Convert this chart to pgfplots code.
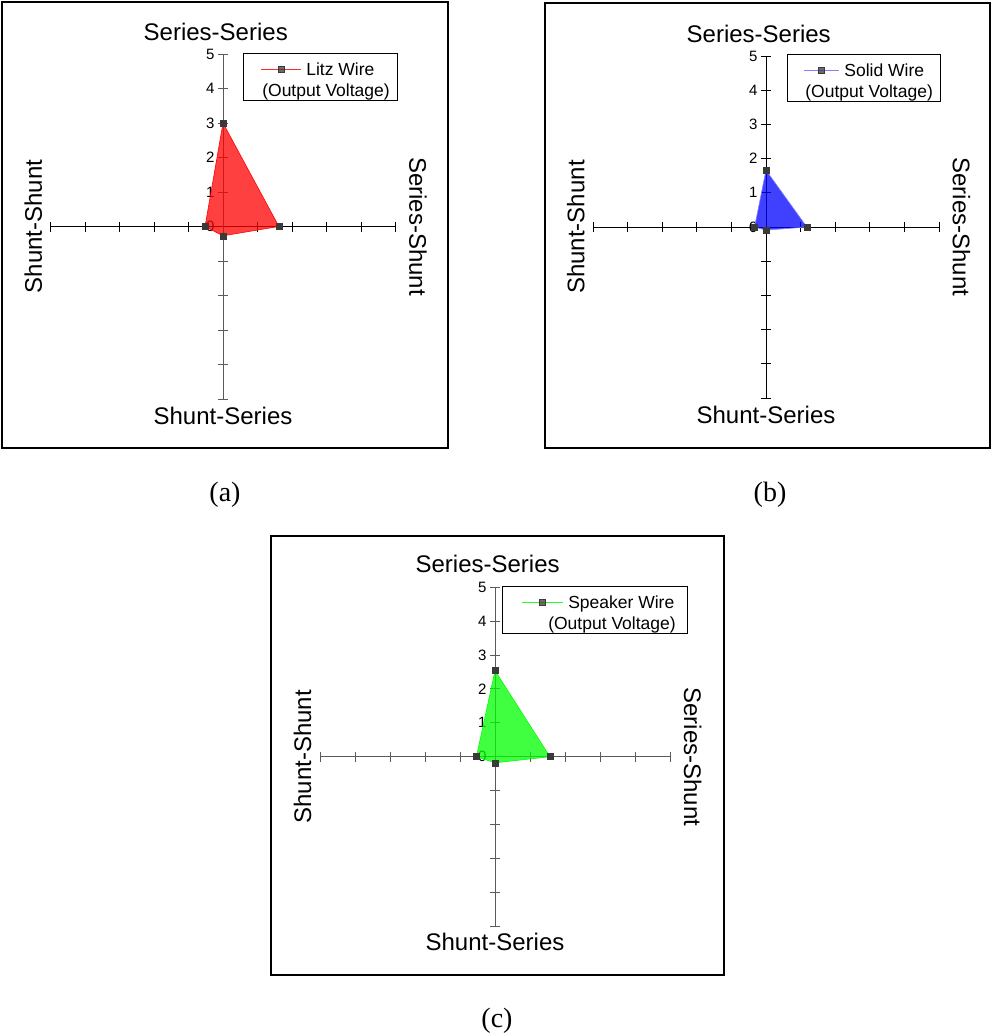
\documentclass[border=0pt]{standalone}
\usepackage{pgfplots}
\pgfplotsset{compat=1.18}
\usepackage{fontspec}
\setmainfont{Liberation Sans}
\newfontfamily\capfont{Liberation Serif}

\definecolor{markgray}{HTML}{3A3A3A}
\definecolor{axgray}{HTML}{5A5A5A}
\definecolor{litzred}{RGB}{255,40,40}
\definecolor{solidblue}{RGB}{128,128,255}
\definecolor{speakgreen}{RGB}{40,255,40}

\tikzset{axlab/.style={font=\fontsize{24}{28}\selectfont}}

\pgfplotsset{
  quad/.style={
    anchor=origin,
    xmin=-5, xmax=5, ymin=-5, ymax=5,
    axis lines=middle,
    axis line style={-, line width=0.9pt},
    xtick={-5,...,5}, ytick={-5,...,5},
    xticklabels={},
    yticklabels={,,,,,0,1,2,3,4,5},
    hide obscured x ticks=false, hide obscured y ticks=false,
    tick align=center, major tick length=10pt,
    tick style={line width=0.9pt, black},
    yticklabel style={font=\fontsize{15}{18}\selectfont, anchor=east},
    clip=false,
    legend style={font=\fontsize{17.5}{21}\selectfont, draw=black, line width=1pt,
      inner xsep=8pt, inner ysep=2pt, column sep=5pt,
      nodes={inner sep=0pt},
      cells={anchor=base west, align=left}},
  },
  % legend sample sits on the first text line (the cell base is the last line)
  legimg/.style n args={3}{legend image code/.code={
      \path (-#1,41pt) (0pt,0pt);
      \draw[color=#3, line width=1pt, opacity=1] (0pt,27pt) -- (#2,27pt);
      \fill[markgray] ($(#2/2,27pt)+(-3pt,-3pt)$) rectangle ++(6pt,6pt);}},
  wire/.style={draw=#1, line width=0.6pt, fill=#1, fill opacity=0.75,
    mark=square*, mark size=3pt, mark options={fill=markgray, draw=markgray, fill opacity=1}},
}
\usetikzlibrary{calc}

\begin{document}
\begin{tikzpicture}[x=1pt, y=1pt]
\path[use as bounding box] (0,0) rectangle (992,-1034);

% (a) Litz wire
\begin{axis}[quad, at={(223pt,-226.5pt)}, x=34.5pt, y=34.5pt,
  y axis line style={axgray}, ytick style={axgray},
  legend style={at={(axis cs:0.58,5.03)}, anchor=north west},
  legimg={9pt}{40pt}{litzred}]
\addplot[wire=red] coordinates {(0,3.0) (1.62,0) (0,-0.27) (-0.52,0)} -- cycle;
\addlegendentry{Litz Wire\\\hspace*{-44pt}(Output Voltage)}
\node[axlab] at (axis cs:-0.21,5.65) {Series-Series};
\node[axlab] at (axis cs:0,-5.5) {Shunt-Series};
\node[axlab, rotate=90] at (axis cs:-5.5,0) {Shunt-Shunt};
\node[axlab, rotate=-90] at (axis cs:5.65,0) {Series-Shunt};
\end{axis}

% (b) Solid wire
\begin{axis}[quad, at={(766pt,-227pt)}, x=34.6pt, y=34.2pt,
  legend style={at={(axis cs:0.61,5.06)}, anchor=north west},
  legimg={8pt}{35pt}{solidblue}]
\addplot[wire=blue, draw=solidblue] coordinates {(0,1.66) (1.18,0) (0,-0.09) (-0.33,0)} -- cycle;
\addlegendentry{Solid Wire\\\hspace*{-39pt}(Output Voltage)}
\node[axlab] at (axis cs:-0.21,5.65) {Series-Series};
\node[axlab] at (axis cs:0,-5.5) {Shunt-Series};
\node[axlab, rotate=90] at (axis cs:-5.5,0) {Shunt-Shunt};
\node[axlab, rotate=-90] at (axis cs:5.65,0) {Series-Shunt};
\end{axis}

% (c) Speaker wire
\begin{axis}[quad, at={(495pt,-756.7pt)}, x=35pt, y=33.9pt,
  axis line style={axgray}, tick style={axgray},
  legend style={at={(axis cs:0.2,5.04)}, anchor=north west, inner xsep=12pt},
  legimg={7pt}{41pt}{speakgreen}]
\addplot[wire=green] coordinates {(0,2.54) (1.57,0) (0,-0.18) (-0.53,0)} -- cycle;
\addlegendentry{Speaker Wire\\\hspace*{-20pt}(Output Voltage)}
\node[axlab] at (axis cs:-0.21,5.7) {Series-Series};
\node[axlab] at (axis cs:0,-5.47) {Shunt-Series};
\node[axlab, rotate=90] at (axis cs:-5.5,0) {Shunt-Shunt};
\node[axlab, rotate=-90] at (axis cs:5.65,0) {Series-Shunt};
\end{axis}

% panel frames
\draw[line width=2pt] (2,-2) rectangle (448,-448);
\draw[line width=2pt] (545,-3) rectangle (990,-448);
\draw[line width=2pt] (271,-536) rectangle (724,-975);

% captions
\node[font=\capfont\fontsize{28}{32}\selectfont] at (225,-495) {(a)};
\node[font=\capfont\fontsize{28}{32}\selectfont] at (770,-495) {(b)};
\node[font=\capfont\fontsize{28}{32}\selectfont] at (497,-1021) {(c)};
\end{tikzpicture}
\end{document}
